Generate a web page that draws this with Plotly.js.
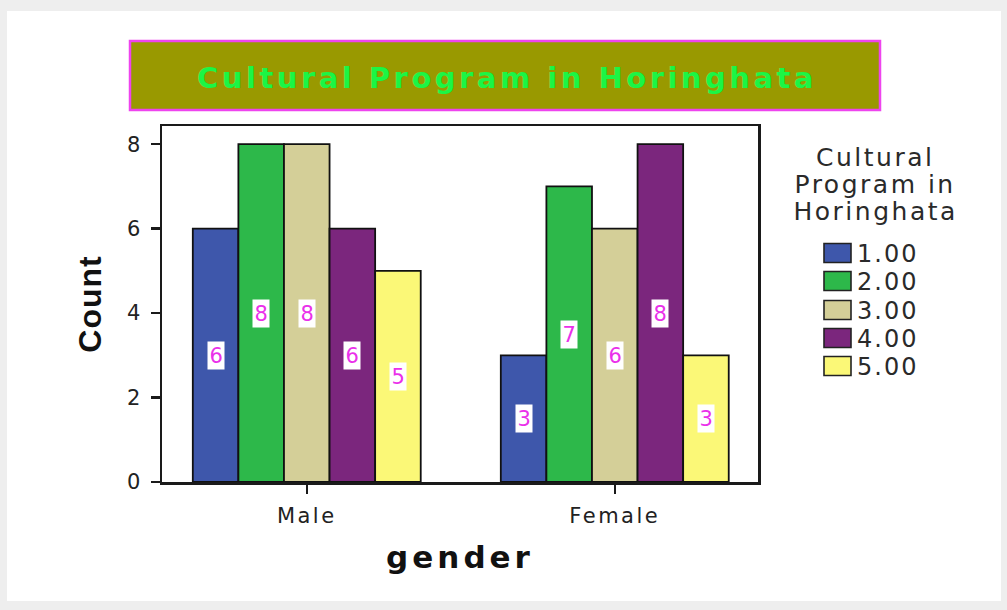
<!DOCTYPE html>
<html>
<head>
<meta charset="utf-8">
<script src="https://cdn.plot.ly/plotly-3.0.1.min.js"></script>
<style>
  html, body { margin:0; padding:0; background:#eeeeee; }
  #chart { width:1007px; height:610px; }
  .gtitle { letter-spacing: 3.5px; }
  .g-xtitle text { letter-spacing: 4px; }
  .xtick text { letter-spacing: 2.5px; }
  .g-ytitle text { letter-spacing: 1px; }
</style>
</head>
<body>
<div id="chart"></div>
<script>
// ---- data ----
const categories = ['Male', 'Female'];
const seriesNames = ['1.00', '2.00', '3.00', '4.00', '5.00'];
const s1 = [6, 3];
const s2 = [8, 7];
const s3 = [8, 6];
const s4 = [6, 8];
const s5 = [5, 3];
const yTicks = [0, 2, 4, 6, 8];
const chartTitle = 'Cultural Program in Horinghata';
const legendTitleLines = ['Cultural', 'Program in', 'Horinghata'];
const xTitle = 'gender';
const yTitle = 'Count';

// ---- style ----
const colors = ['#3e57ab', '#2db84a', '#d4cf98', '#7b267d', '#fbf877'];
const seriesValues = [s1, s2, s3, s4, s5];

const W = 1007, H = 610;
const M = {l: 162, r: 249, t: 126, b: 128};
const PW = W - M.l - M.r, PH = H - M.t - M.b;
const px = x => (x - M.l) / PW;
const py = y => (H - M.b - y) / PH;

const bargap = 0.26;
const barW = (1 - bargap) / seriesNames.length;

const traces = seriesNames.map((name, i) => ({
  type: 'bar',
  name: name,
  x: categories,
  y: seriesValues[i],
  marker: {color: colors[i], line: {color: '#111111', width: 1.8}},
  hoverinfo: 'none',
  showlegend: false
}));

const annotations = [];
// value labels
seriesValues.forEach((vals, i) => {
  vals.forEach((v, c) => {
    annotations.push({
      x: c + (i - (seriesNames.length - 1) / 2) * barW,
      y: v / 2,
      xref: 'x', yref: 'y',
      text: String(v),
      showarrow: false,
      bgcolor: '#ffffff',
      borderpad: 1.5,
      font: {family: 'DejaVu Sans, sans-serif', size: 21, color: '#ea30ea'}
    });
  });
});
const nLabels = annotations.length;
// legend title
const legTitleY = [157, 184, 211];
legendTitleLines.forEach((t, k) => {
  annotations.push({
    x: px(875), y: py(legTitleY[k]), xref: 'paper', yref: 'paper',
    xanchor: 'center', yanchor: 'middle', showarrow: false,
    text: t,
    font: {family: 'DejaVu Sans, sans-serif', size: 25, color: '#2a2a2a'}
  });
});
// legend items
const legItemY = [253, 281, 310, 338, 366];
const shapes = [];
// outer white panel
shapes.push({type: 'rect', xref: 'paper', yref: 'paper', layer: 'below',
  x0: px(7), x1: px(1001), y0: py(11), y1: py(601),
  fillcolor: '#ffffff', line: {width: 0}});
// title box
shapes.push({type: 'rect', xref: 'paper', yref: 'paper', layer: 'below',
  x0: px(130), x1: px(880), y0: py(41), y1: py(110),
  fillcolor: '#999900', line: {color: '#ee44ee', width: 2.5}});
seriesNames.forEach((name, i) => {
  shapes.push({type: 'rect', xref: 'paper', yref: 'paper',
    x0: px(824), x1: px(851), y0: py(legItemY[i] - 9.5), y1: py(legItemY[i] + 9.5),
    fillcolor: colors[i], line: {color: '#222222', width: 1.6}});
  annotations.push({
    x: px(859), y: py(legItemY[i] + 1), xref: 'paper', yref: 'paper',
    xanchor: 'left', yanchor: 'middle', showarrow: false,
    text: name,
    font: {family: 'DejaVu Sans, sans-serif', size: 24, color: '#2a2a2a'}
  });
});

const layout = {
  width: W, height: H,
  margin: M,
  paper_bgcolor: '#eeeeee',
  plot_bgcolor: '#f0f0f0',
  barmode: 'group',
  bargap: bargap,
  bargroupgap: 0,
  showlegend: false,
  title: {
    text: '<b>' + chartTitle + '</b>',
    x: 507 / W, xanchor: 'center', xref: 'container',
    y: 1 - 78 / H, yanchor: 'middle', yref: 'container',
    font: {family: 'DejaVu Sans, sans-serif', size: 29, color: '#1cf545'}
  },
  xaxis: {
    type: 'category',
    range: [-0.47, 1.465],
    showline: true, mirror: true, linecolor: '#1a1a1a', linewidth: 2.5,
    ticks: 'outside', ticklen: 9, tickwidth: 2.5, tickcolor: '#1a1a1a',
    ticklabelstandoff: 4,
    tickfont: {family: 'DejaVu Sans, sans-serif', size: 21, color: '#222222'},
    showgrid: false, zeroline: false,
    title: {text: '<b>' + xTitle + '</b>', standoff: 20,
      font: {family: 'DejaVu Sans, sans-serif', size: 31, color: '#111111'}}
  },
  yaxis: {
    range: [0, 8.43],
    tickvals: yTicks,
    ticktext: yTicks.map(String),
    showline: true, mirror: true, linecolor: '#1a1a1a', linewidth: 2.5,
    ticks: 'outside', ticklen: 9, tickwidth: 2.5, tickcolor: '#1a1a1a',
    ticklabelstandoff: 6,
    tickfont: {family: 'DejaVu Sans, sans-serif', size: 21, color: '#222222'},
    showgrid: false, zeroline: false,
    title: {text: '<b>' + yTitle + '</b>', standoff: 16,
      font: {family: 'Liberation Sans, Arial, sans-serif', size: 32, color: '#111111'}}
  },
  shapes: shapes,
  annotations: annotations
};

Plotly.newPlot('chart', traces, layout, {displayModeBar: false, staticPlot: true}).then(() => {
  document.querySelectorAll('.annotation').forEach(g => {
    const idx = +g.getAttribute('data-index');
    if (idx >= nLabels) {
      const t = g.querySelector('text');
      if (t) t.style.letterSpacing = idx >= nLabels + legendTitleLines.length ? '2px' : '2.5px';
    }
  });
});
</script>
</body>
</html>
